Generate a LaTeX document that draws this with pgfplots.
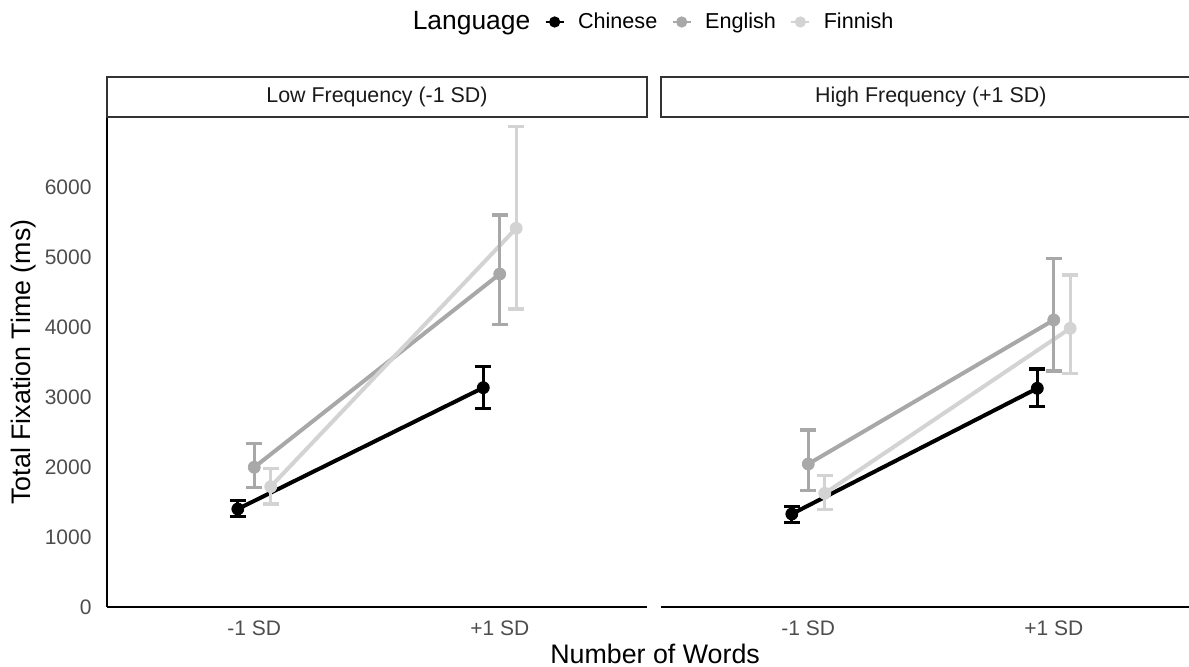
\documentclass[border=0pt]{standalone}
\usepackage{fontspec}
\setmainfont{Liberation Sans}
\usepackage{pgfplots}
\usepackage{pgfplotstable}
\pgfplotsset{compat=1.18}

\definecolor{chi}{HTML}{000000}
\definecolor{eng}{HTML}{A8A8A8}
\definecolor{fin}{HTML}{D3D3D3}
\definecolor{ticktext}{HTML}{4D4D4D}
\definecolor{striptext}{HTML}{1A1A1A}
\definecolor{stripline}{HTML}{333333}

% mean and confidence limits, x already dodged per language
\pgfplotstableread{
x y lo hi
0.933 1400 1290 1519
1.933 3133 2838 3433
}\LoChi
\pgfplotstableread{
x y lo hi
1.000 1996 1705 2338
2.000 4757 4038 5600
}\LoEng
\pgfplotstableread{
x y lo hi
1.067 1719 1471 1981
2.067 5410 4257 6861
}\LoFin
\pgfplotstableread{
x y lo hi
0.933 1329 1205 1433
1.933 3124 2862 3400
}\HiChi
\pgfplotstableread{
x y lo hi
1.000 2043 1662 2529
2.000 4100 3371 4981
}\HiEng
\pgfplotstableread{
x y lo hi
1.067 1624 1395 1876
2.067 3981 3338 4743
}\HiFin

\tikzset{
  strip/.style={stripline, line width=0.6pt, fill=white},
  striplabel/.style={text=striptext, font=\fontsize{10.7}{12}\selectfont},
}

\pgfplotsset{
  facet/.style={
    scale only axis, height=245pt,
    ymin=0, ymax=7000, xmin=0.4,
    clip=false,
    axis x line*=bottom,
    axis line style={-, line width=1.1pt, black},
    xtick={1,2}, xticklabels={-1 SD,+1 SD},
    major tick length=0pt,
    tick label style={font=\fontsize{10.5}{12}\selectfont, text=ticktext},
    xticklabel style={yshift=-3.4pt},
    /pgf/number format/assume math mode=true,
    /pgf/number format/1000 sep={},
  },
  trend/.style={line width=2pt, no markers, forget plot, color=#1},
  ebar/.style={draw=none, mark=none, forget plot,
    /pgfplots/error bars/y dir=both,
    /pgfplots/error bars/y explicit,
    /pgfplots/error bars/error bar style={line width=1.6pt, draw=#1},
    /pgfplots/error bars/error mark options={rotate=90, draw=#1, line width=1.6pt, mark size=4pt}},
  dots/.style={only marks, mark=*, mark size=3pt, forget plot, color=#1},
  glyph/.style={legend image code/.code={
      \draw[line width=1.4pt] (0pt,0pt) -- (9pt,0pt);
      \fill (4.5pt,0pt) circle (2.6pt);
      \path (14pt,0pt);}},
}

\begin{document}
\begin{tikzpicture}
\useasboundingbox (0,0) rectangle (594.5pt,333.5pt);

% left facet: low frequency
\begin{axis}[facet, name=L,
  at={(53.5pt,30pt)}, anchor=south west,
  width=270pt, xmax=2.6,
  axis y line*=left,
  ytick={0,1000,...,6000},
  yticklabel style={xshift=-4.2pt},
  ylabel={Total Fixation Time (ms)},
  ylabel style={at={(axis description cs:-0.1537,0.5)}, anchor=center,
    font=\fontsize{13.4}{16}\selectfont},
  xlabel={Number of Words},
  xlabel style={at={(axis description cs:1.015,-0.1163)}, anchor=base,
    font=\fontsize{13.4}{16}\selectfont},
  legend columns=-1,
  legend style={draw=none, fill=none, at={(1.0113,1.1939)}, anchor=center,
    font=\fontsize{10.8}{12}\selectfont,
    /tikz/every even column/.append style={column sep=5pt}},
]
\addplot[trend=chi] table[x=x,y=y] {\LoChi};
\addplot[trend=eng] table[x=x,y=y] {\LoEng};
\addplot[trend=fin] table[x=x,y=y] {\LoFin};
\addplot[ebar=chi] table[x=x, y=y, y error plus expr=\thisrow{hi}-\thisrow{y}, y error minus expr=\thisrow{y}-\thisrow{lo}] {\LoChi};
\addplot[ebar=eng] table[x=x, y=y, y error plus expr=\thisrow{hi}-\thisrow{y}, y error minus expr=\thisrow{y}-\thisrow{lo}] {\LoEng};
\addplot[ebar=fin] table[x=x, y=y, y error plus expr=\thisrow{hi}-\thisrow{y}, y error minus expr=\thisrow{y}-\thisrow{lo}] {\LoFin};
\addplot[dots=chi] table[x=x,y=y] {\LoChi};
\addplot[dots=eng] table[x=x,y=y] {\LoEng};
\addplot[dots=fin] table[x=x,y=y] {\LoFin};
\addlegendimage{empty legend}
\addlegendentry{\fontsize{13.2}{16}\selectfont Language\hspace{2.5pt}}
\addlegendimage{glyph, chi}
\addlegendentry{Chinese}
\addlegendimage{glyph, eng}
\addlegendentry{English}
\addlegendimage{glyph, fin}
\addlegendentry{Finnish}
\draw[strip] (rel axis cs:0,1) rectangle (rel axis cs:1,1.0816);
\node[striplabel] at (rel axis cs:0.5,1.0408) {Low Frequency (-1 SD)};
\end{axis}

% right facet: high frequency
\begin{axis}[facet,
  at={(330.5pt,30pt)}, anchor=south west,
  width=264pt, xmax=2.551,
  axis y line=none,
  ytick=\empty,
]
\addplot[trend=chi] table[x=x,y=y] {\HiChi};
\addplot[trend=eng] table[x=x,y=y] {\HiEng};
\addplot[trend=fin] table[x=x,y=y] {\HiFin};
\addplot[ebar=chi] table[x=x, y=y, y error plus expr=\thisrow{hi}-\thisrow{y}, y error minus expr=\thisrow{y}-\thisrow{lo}] {\HiChi};
\addplot[ebar=eng] table[x=x, y=y, y error plus expr=\thisrow{hi}-\thisrow{y}, y error minus expr=\thisrow{y}-\thisrow{lo}] {\HiEng};
\addplot[ebar=fin] table[x=x, y=y, y error plus expr=\thisrow{hi}-\thisrow{y}, y error minus expr=\thisrow{y}-\thisrow{lo}] {\HiFin};
\addplot[dots=chi] table[x=x,y=y] {\HiChi};
\addplot[dots=eng] table[x=x,y=y] {\HiEng};
\addplot[dots=fin] table[x=x,y=y] {\HiFin};
\draw[strip] (rel axis cs:0,1) rectangle (rel axis cs:1.05,1.0816);
\node[striplabel] at (rel axis cs:0.511,1.0408) {High Frequency (+1 SD)};
\end{axis}
\end{tikzpicture}
\end{document}
